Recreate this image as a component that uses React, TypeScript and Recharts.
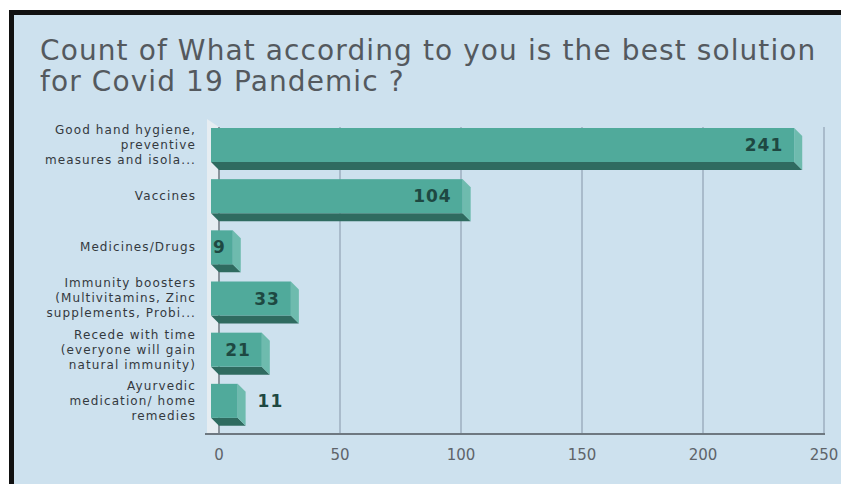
import * as Recharts from "recharts";
import { BarChart, Bar, XAxis, YAxis, CartesianGrid, LabelList } from "recharts";

const categories = [
  "Good hand hygiene, preventive measures and isola...",
  "Vaccines",
  "Medicines/Drugs",
  "Immunity boosters (Multivitamins, Zinc supplements, Probi...",
  "Recede with time (everyone will gain natural immunity)",
  "Ayurvedic medication/ home remedies",
];

// wrapped tick text, one entry per category
const categoryLines = [
  ["Good hand hygiene,", "preventive", "measures and isola..."],
  ["Vaccines"],
  ["Medicines/Drugs"],
  ["Immunity boosters", "(Multivitamins, Zinc", "supplements, Probi..."],
  ["Recede with time", "(everyone will gain", "natural immunity)"],
  ["Ayurvedic", "medication/ home", "remedies"],
];

const counts = [241, 104, 9, 33, 21, 11];
const xTicks = [0, 50, 100, 150, 200, 250];

const data = categories.map((name, i) => ({ name, count: counts[i] }));

const DEPTH = 8;
const FONT = "'DejaVu Sans', sans-serif";

// plot area hook differs between 3.x releases
const usePlot: () => any =
  (Recharts as any).usePlotArea ?? (Recharts as any).useOffset ?? (() => null);

function Wall() {
  const area = usePlot();
  if (!area) return null;
  const x = area.x ?? area.left;
  const y = area.y ?? area.top;
  const w = area.width ?? 841 - area.left - area.right;
  const h = area.height ?? 484 - area.top - area.bottom;
  const b = y + h;
  return (
    <g>
      <polygon
        points={`${x - 12},${y - 8} ${x},${y} ${x},${b} ${x - 12},${b}`}
        fill="#E6EDF2"
      />
      <line x1={x} y1={y} x2={x} y2={b} stroke="#8A949C" strokeWidth={2} />
      <line x1={x - 14} y1={b} x2={x + w + 1} y2={b} stroke="#6E7880" strokeWidth={2} />
    </g>
  );
}

function Bar3D(props: any) {
  const { x, y, width, height } = props;
  if (!width || width <= 0) return null;
  const fx = x - DEPTH;
  const fy = y - DEPTH;
  return (
    <g>
      {/* underside */}
      <polygon
        points={`${fx},${fy + height} ${fx + width},${fy + height} ${x + width},${y + height} ${x},${y + height}`}
        fill="#2F6B60"
      />
      {/* end cap */}
      <polygon
        points={`${fx + width},${fy} ${x + width},${y} ${x + width},${y + height} ${fx + width},${fy + height}`}
        fill="#6EBBAE"
      />
      <rect x={fx} y={fy} width={width} height={height} fill="#50AA9B" />
    </g>
  );
}

function ValueLabel(props: any) {
  const { x, y, width, height, value, index } = props;
  const cy = y - DEPTH + height / 2;
  const front = x - DEPTH + width;
  let tx = front - 11;
  let anchor: "start" | "end" = "end";
  if (index === counts.length - 1) {
    // last bar carries its label past the end
    tx = x + width + 12;
    anchor = "start";
  } else if (width < 30) {
    tx = x - DEPTH + 2;
    anchor = "start";
  }
  return (
    <text
      x={tx}
      y={cy}
      dy="0.36em"
      textAnchor={anchor}
      fontFamily={FONT}
      fontWeight={700}
      fontSize={17}
      letterSpacing={1}
      fill="#1E4842"
    >
      {value}
    </text>
  );
}

function CategoryTick(props: any) {
  const { x, y, index } = props;
  const lines = categoryLines[index] ?? [];
  const lh = 15;
  const top = y - DEPTH - ((lines.length - 1) * lh) / 2;
  return (
    <text
      x={x}
      textAnchor="end"
      fontFamily={FONT}
      fontSize={12}
      letterSpacing={1.1}
      fill="#34393E"
    >
      {lines.map((ln, i) => (
        <tspan key={i} x={x} y={top + i * lh} dy="0.36em">
          {ln}
        </tspan>
      ))}
    </text>
  );
}

export default function App() {
  return (
    <div
      style={{
        position: "absolute",
        left: 0,
        top: 0,
        width: 841,
        height: 484,
        background: "#ffffff",
        overflow: "hidden",
      }}
    >
      <div
        style={{
          position: "absolute",
          left: 9,
          top: 10,
          right: 0,
          bottom: 0,
          borderLeft: "5px solid #111",
          borderTop: "5px solid #111",
          background: "#CDE1EE",
        }}
      />
      <div
        style={{
          position: "absolute",
          left: 40,
          top: 35,
          fontFamily: FONT,
          fontSize: 28,
          letterSpacing: 1.1,
          lineHeight: "31px",
          color: "#54595E",
          whiteSpace: "nowrap",
        }}
      >
        Count of What according to you is the best solution
        <br />
        for Covid 19 Pandemic ?
      </div>
      <div style={{ position: "absolute", left: 0, top: 0 }}>
        <BarChart
          width={841}
          height={484}
          data={data}
          layout="vertical"
          margin={{ top: 127, right: 17, bottom: 20, left: 0 }}
          barSize={34}
        >
          <CartesianGrid horizontal={false} stroke="#A9BBCB" strokeWidth={2} />
          <Wall />
          <XAxis
            type="number"
            domain={[0, 250]}
            ticks={xTicks}
            axisLine={false}
            tickLine={false}
            tickSize={0}
            tickMargin={15}
            height={30}
            tick={{ fontFamily: FONT, fontSize: 15, fill: "#5E646A" }}
          />
          <YAxis
            type="category"
            dataKey="name"
            width={219}
            axisLine={false}
            tickLine={false}
            tickSize={0}
            tickMargin={23}
            tick={<CategoryTick />}
            interval={0}
          />
          <Bar dataKey="count" shape={<Bar3D />} isAnimationActive={false}>
            <LabelList dataKey="count" content={<ValueLabel />} />
          </Bar>
        </BarChart>
      </div>
    </div>
  );
}
